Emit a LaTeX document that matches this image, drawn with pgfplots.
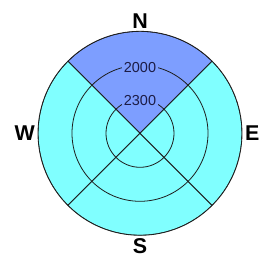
\documentclass[border=0pt]{standalone}
\usepackage{pgfplots}
\pgfplotsset{compat=1.18}
\usepgfplotslibrary{polar}
\usepackage{fontspec}
\setmainfont{Liberation Sans}
\definecolor{nblue}{RGB}{125,158,255}
\definecolor{ecyan}{RGB}{128,255,255}
\definecolor{lab}{RGB}{28,28,70}
\definecolor{ln}{RGB}{30,30,30}
\begin{document}
\begin{tikzpicture}
\begin{polaraxis}[
  scale only axis, width=204bp, height=204bp,
  y coord trafo/.code={\pgfmathparse{2600-#1}},
  y coord inv trafo/.code={\pgfmathparse{2600-#1}},
  ymin=2600, ymax=1700,
  ytick={2300,2000},
  yticklabel style={opacity=0},
  y axis line style={draw=none},
  xtick={0,90,180,270}, xticklabels={E,N,W,S},
  xticklabel style={font=\fontsize{21.5}{24}\selectfont\bfseries, inner sep=3bp},
  major tick length=0,
  xmajorgrids=false, ymajorgrids=true,
  major grid style={draw=ln, line width=0.8bp},
  x axis line style={draw=ln, line width=0.8bp},
  axis on top,
]
% N sector
\addplot[draw=ln, line width=0.8bp, fill=nblue] coordinates {
(45,2600) (45,1700) (50,1700) (55,1700) (60,1700) (65,1700) (70,1700) (75,1700) (80,1700) (85,1700) (90,1700)
(95,1700) (100,1700) (105,1700) (110,1700) (115,1700) (120,1700) (125,1700) (130,1700) (135,1700) (135,2600)} -- cycle;
% W sector
\addplot[draw=ln, line width=0.8bp, fill=ecyan] coordinates {
(135,2600) (135,1700) (140,1700) (145,1700) (150,1700) (155,1700) (160,1700) (165,1700) (170,1700) (175,1700) (180,1700)
(185,1700) (190,1700) (195,1700) (200,1700) (205,1700) (210,1700) (215,1700) (220,1700) (225,1700) (225,2600)} -- cycle;
% S sector
\addplot[draw=ln, line width=0.8bp, fill=ecyan] coordinates {
(225,2600) (225,1700) (230,1700) (235,1700) (240,1700) (245,1700) (250,1700) (255,1700) (260,1700) (265,1700) (270,1700)
(275,1700) (280,1700) (285,1700) (290,1700) (295,1700) (300,1700) (305,1700) (310,1700) (315,1700) (315,2600)} -- cycle;
% E sector
\addplot[draw=ln, line width=0.8bp, fill=ecyan] coordinates {
(-45,2600) (-45,1700) (-40,1700) (-35,1700) (-30,1700) (-25,1700) (-20,1700) (-15,1700) (-10,1700) (-5,1700) (0,1700)
(5,1700) (10,1700) (15,1700) (20,1700) (25,1700) (30,1700) (35,1700) (40,1700) (45,1700) (45,2600)} -- cycle;
\coordinate (c) at (axis cs:0,2600);
\coordinate (a) at (axis cs:90,2000);
\coordinate (b) at (axis cs:90,2300);
\end{polaraxis}
\node[fill=nblue, text=lab, inner sep=1.5bp, font=\fontsize{14.5}{16}\selectfont] at ([yshift=-2bp]a) {2000};
\node[fill=nblue, text=lab, inner sep=1.5bp, font=\fontsize{14.5}{16}\selectfont] at ([yshift=-1.5bp]b) {2300};
\pgfresetboundingbox
\path[use as bounding box] (c) ++(-140bp,-121.7bp) rectangle ++(262bp,255bp);
\end{tikzpicture}
\end{document}
